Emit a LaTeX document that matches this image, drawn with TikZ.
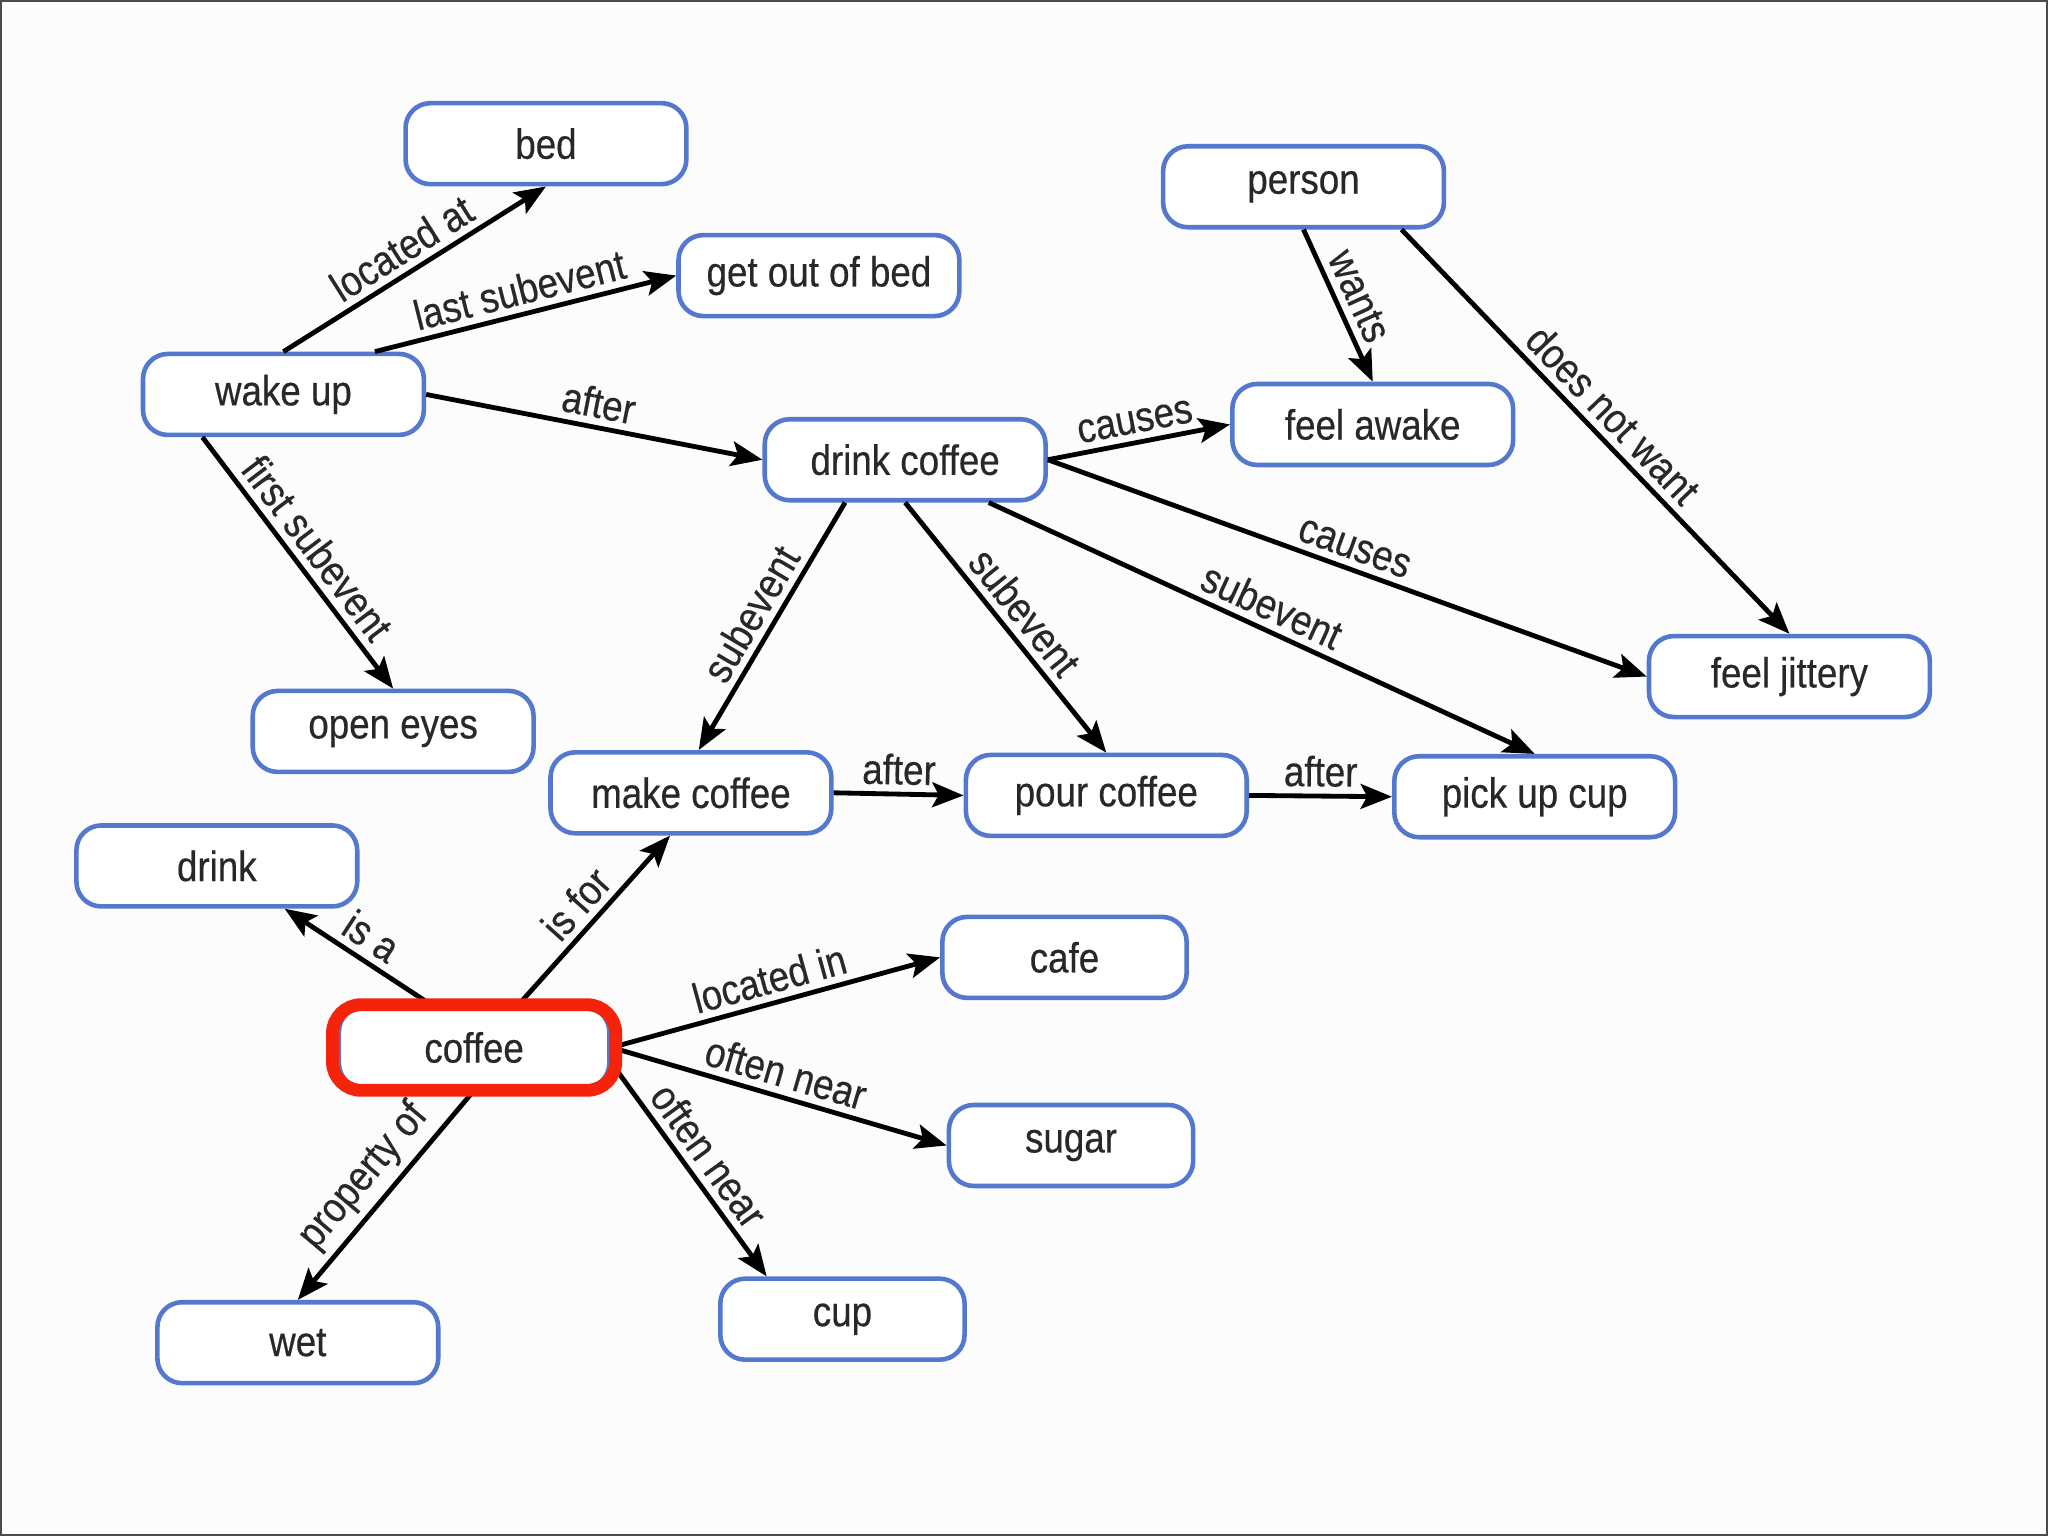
\documentclass[tikz,border=0pt]{standalone}
\usepackage{fontspec}
\setmainfont{Liberation Sans}[FakeStretch=0.87,FakeBold=0.4]
\usetikzlibrary{arrows.meta,fit}
\definecolor{boxblue}{RGB}{84,120,206}
\definecolor{markred}{RGB}{245,35,10}
\definecolor{ink}{RGB}{40,40,40}
\definecolor{paper}{RGB}{252,252,252}
\begin{document}
\begin{tikzpicture}[
	font=\fontsize{9.2}{11}\selectfont,
	concept/.style={draw=boxblue,line width=1pt,rounded corners=0.19cm,fill=white,text=ink,
		minimum width=2.15cm,minimum height=0.62cm,inner sep=0pt},
	small/.style={minimum width=1.87cm},
	rel/.style={draw=black,line width=1.05pt,-{Stealth[length=2.4mm,width=1.9mm,inset=0.5mm]}},
	lab/.style={sloped,above,text=ink,inner sep=1.5pt},
	hilite/.style={draw=markred,line width=2.8pt,rounded corners=0.22cm,inner xsep=0.032cm,inner ysep=0pt}
	]
	\useasboundingbox (0,0) rectangle (15.68,-11.76);
	\fill[paper] (0,0) rectangle (15.68,-11.76);
	\draw[gray!60!black,line width=0.5pt] (0.01,-0.01) rectangle (15.67,-11.75);
	\foreach \n/\x/\y/\t in {bed/4.18/-1.10/bed, gob/6.27/-2.11/get out of bed, wake/2.17/-3.02/wake up,
		eyes/3.01/-5.60/open eyes, dcoffee/6.93/-3.52/drink coffee, person/9.98/-1.43/person,
		awake/10.51/-3.25/feel awake, jittery/13.70/-5.18/feel jittery, make/5.29/-6.07/make coffee,
		pour/8.47/-6.09/pour coffee, pick/11.75/-6.10/pick up cup, drink/1.66/-6.63/drink, wet/2.28/-10.28/wet}
		\node [concept] (\n) at (\x,\y) {\t};
	\foreach \n/\x/\y in {cafe/8.15/-7.33, sugar/8.20/-8.77, cup/6.45/-10.10}
		\node [concept,small] (\n) at (\x,\y) {\n};
	\node [concept,minimum width=2.07cm] (coffee) at (3.63,-8.02) {coffee};
	\draw[rel] (wake.north) -- node[lab]{located at} (bed.south);
	\draw[rel] ([xshift=0.7cm]wake.north) -- node[lab]{last subevent} (gob.west);
	\draw[rel] (wake.east) -- node[lab]{after} (dcoffee.west);
	\draw[rel] ([xshift=-0.62cm]wake.south) -- node[lab]{first subevent} (eyes.north);
	\draw[rel] ([xshift=-0.46cm]dcoffee.south) -- node[lab]{subevent} ([xshift=0.06cm]make.north);
	\draw[rel] (dcoffee.south) -- node[lab]{subevent} (pour.north);
	\draw[rel] ([xshift=0.64cm]dcoffee.south) -- node[lab]{subevent} (pick.north);
	\draw[rel] (dcoffee.east) -- node[lab]{causes} (awake.west);
	\draw[rel] (dcoffee.east) -- node[lab]{causes} (jittery.west);
	\draw[rel] (person.south) -- node[lab]{wants} (awake.north);
	\draw[rel] ([xshift=0.75cm]person.south) -- node[lab]{does not want} (jittery.north);
	\draw[rel] (make.east) -- node[lab]{after} (pour.west);
	\draw[rel] (pour.east) -- node[lab]{after} (pick.west);
	\draw[rel] ([xshift=-0.33cm]coffee.north) -- node[lab]{is a} ([xshift=0.52cm]drink.south);
	\draw[rel] ([xshift=0.34cm]coffee.north) -- node[lab]{is for} ([xshift=-0.16cm]make.south);
	\draw[rel] (coffee.east) -- node[lab]{located in} (cafe.west);
	\draw[rel] (coffee.east) -- node[lab]{often near} (sugar.west);
	\draw[rel] ([yshift=-0.12cm]coffee.east) -- node[lab]{often near} ([xshift=-0.58cm]cup.north);
	\draw[rel] (coffee.south) -- node[lab]{property of} (wet.north);
	\node [hilite,fit=(coffee)] (mark) {};
\end{tikzpicture}
\end{document}
